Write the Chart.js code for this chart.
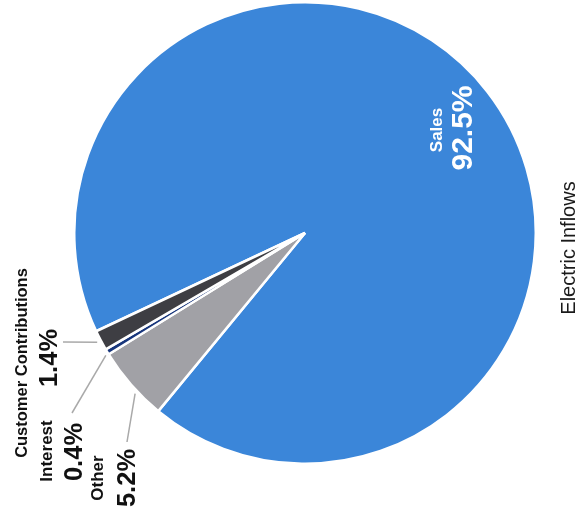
<!DOCTYPE html>
<html>
<head>
<meta charset="utf-8">
<title>Electric Inflows</title>
<script src="https://cdn.jsdelivr.net/npm/chart.js@4/dist/chart.umd.min.js"></script>
<style>
  html, body { margin: 0; padding: 0; background: #ffffff; }
  #wrap { width: 582px; height: 516px; position: relative; }
</style>
</head>
<body>
<div id="wrap"><canvas id="chart" width="582" height="516"></canvas></div>
<script>
// Electric inflow sources and their share of the total (percent)
const categories = ['Sales', 'Other', 'Interest', 'Customer Contributions'];
const shares = [92.5, 5.2, 0.4, 1.4];
const chartTitle = 'Electric Inflows';

const sliceColors = ['#3b86d9', '#a1a1a6', '#18367c', '#3e3e43'];
const FONT = "'Liberation Sans', Arial, Helvetica, sans-serif";

// Label placement for each slice (page is turned a quarter, text runs upward).
// name/value: x of the text baseline, y of the text centre.
// lead: where on the slice the leader starts (fraction across the slice) and where it ends.
const labelLayout = {
  'Sales': {
    inside: true,
    name:  { x: 442, y: 130, size: 17 },
    value: { x: 472, y: 128, size: 30 }
  },
  'Customer Contributions': {
    name:  { x: 27, y: 363, size: 16.5 },
    value: { x: 57, y: 358, size: 25.5 },
    lead:  { f: 0.5, r: 4, to: [63, 342] }
  },
  'Interest': {
    name:  { x: 52, y: 451, size: 17 },
    value: { x: 82, y: 452, size: 25.5 },
    lead:  { f: 0.1, r: 3, to: [72, 413] }
  },
  'Other': {
    name:  { x: 103, y: 478, size: 17 },
    value: { x: 135, y: 478, size: 25.5 },
    lead:  { f: 0.38, r: 3, to: [127, 442] }
  }
};

function drawUpright(ctx, text, xBase, yMid, font, color) {
  ctx.save();
  ctx.translate(xBase, yMid);
  ctx.rotate(-Math.PI / 2);
  ctx.font = font;
  ctx.fillStyle = color;
  ctx.textAlign = 'center';
  ctx.textBaseline = 'alphabetic';
  ctx.fillText(text, 0, 0);
  ctx.restore();
}

const sliceLabels = {
  id: 'sliceLabels',
  afterDraw(chart) {
    const ctx = chart.ctx;
    const arcs = chart.getDatasetMeta(0).data;
    const values = chart.data.datasets[0].data;
    chart.data.labels.forEach((name, i) => {
      const spec = labelLayout[name];
      if (!spec) return;
      const arc = arcs[i];
      const color = spec.inside ? '#ffffff' : '#111111';
      if (spec.lead) {
        const a = arc.startAngle + spec.lead.f * (arc.endAngle - arc.startAngle);
        const r = arc.outerRadius + spec.lead.r;
        ctx.save();
        ctx.strokeStyle = '#a9a9a9';
        ctx.lineWidth = 1.5;
        ctx.beginPath();
        ctx.moveTo(arc.x + r * Math.cos(a), arc.y + r * Math.sin(a));
        ctx.lineTo(spec.lead.to[0], spec.lead.to[1]);
        ctx.stroke();
        ctx.restore();
      }
      drawUpright(ctx, name, spec.name.x, spec.name.y,
        'bold ' + spec.name.size + 'px ' + FONT, color);
      drawUpright(ctx, values[i].toFixed(1) + '%', spec.value.x, spec.value.y,
        'bold ' + spec.value.size + 'px ' + FONT, color);
    });
    // chart title along the right edge
    drawUpright(ctx, chartTitle, 575, 248, '20px ' + FONT, '#1a1a1a');
  }
};

new Chart(document.getElementById('chart'), {
  type: 'pie',
  data: {
    labels: categories,
    datasets: [{
      data: shares,
      backgroundColor: sliceColors,
      borderColor: '#ffffff',
      borderWidth: 2.5
    }]
  },
  options: {
    responsive: false,
    animation: false,
    rotation: 244.8,
    layout: { padding: { left: 73, top: 0, right: 45, bottom: 50 } },
    plugins: {
      legend: { display: false },
      tooltip: { enabled: false }
    }
  },
  plugins: [sliceLabels]
});
</script>
</body>
</html>
